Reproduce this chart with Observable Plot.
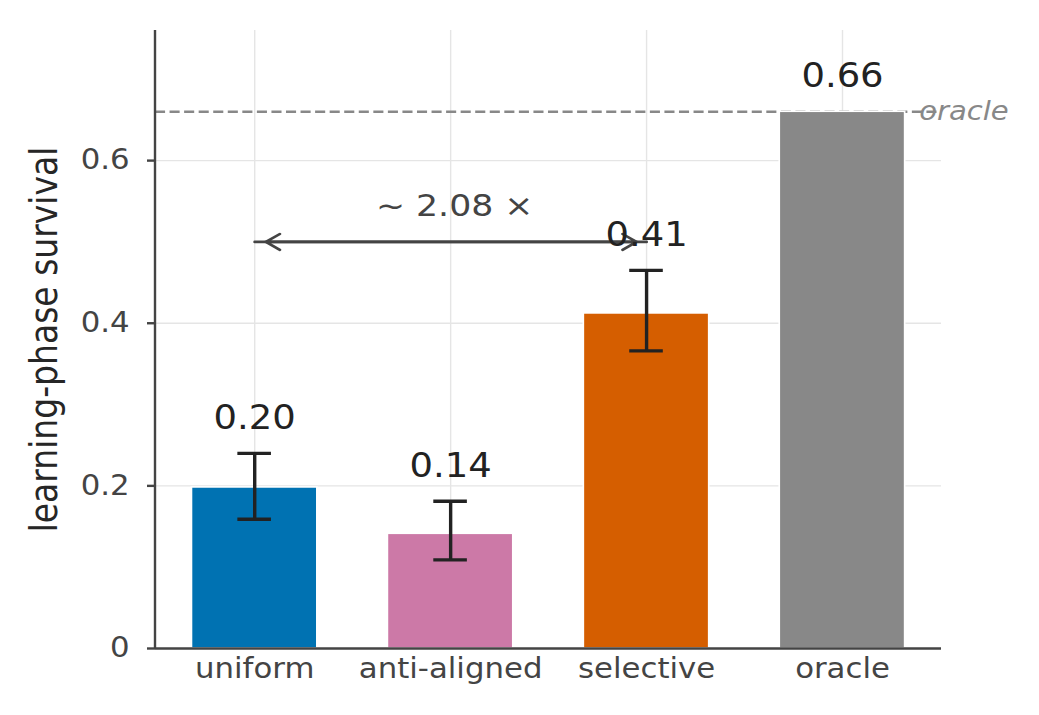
<!DOCTYPE html>
<html><head><meta charset="utf-8">
<script src="https://cdn.jsdelivr.net/npm/d3@7"></script>
<script src="https://cdn.jsdelivr.net/npm/@observablehq/plot@0.6"></script>
<style>
html,body{margin:0;padding:0;background:#fff;}
#wrap{width:1039px;height:715px;overflow:hidden;}
#wrap svg{transform-origin:0 0;}
</style></head><body><div id="wrap"></div>
<script>
// ---- data ----
const categories = ["uniform", "anti-aligned", "selective", "oracle"];
const values = [0.198, 0.141, 0.412, 0.66];
const errLow = [0.159, 0.109, 0.366, null];
const errHigh = [0.240, 0.181, 0.465, null];
const valueLabels = ["0.20", "0.14", "0.41", "0.66"];
const barColors = ["#0072B2", "#CC79A7", "#D55E00", "#888888"];
const yTicks = [0, 0.2, 0.4, 0.6];
const yTickLabels = ["0", "0.2", "0.4", "0.6"];
const yLabel = "learning-phase survival";
const oracleLevel = 0.66;
const oracleLabel = "oracle";
const arrowFrom = "uniform";
const arrowTo = "selective";
const arrowY = 0.5;
const ratioLabel = "~ 2.08 ×";
const ratioLabelY = 0.532;
const labelOffset = 0.03;

// ---- layout ----
const S = 1039 / 928;     // horizontal stretch of the reference
const W = 928;
const mL = 155 / S, mR = W - 941 / S;

const data = categories.map((c, i) => ({cat: c, value: values[i], lo: errLow[i], hi: errHigh[i], label: valueLabels[i], color: barColors[i]}));
const errData = data.filter(d => d.lo != null);
const arrowData = [{from: arrowFrom, to: arrowTo, y: arrowY}];

function leftSpine(...args) {
  const dims = args.find(a => a && typeof a === "object" && "marginLeft" in a && "height" in a);
  return d3.create("svg:line")
    .attr("x1", dims.marginLeft).attr("x2", dims.marginLeft)
    .attr("y1", dims.marginTop).attr("y2", dims.height - dims.marginBottom)
    .attr("stroke", "#444").attr("stroke-width", 2.4 / S).node();
}

const capInset = 41;
const chart = Plot.plot({
  width: W, height: 715,
  marginLeft: mL, marginRight: mR, marginTop: 30, marginBottom: 67,
  style: {fontFamily: "DejaVu Sans", background: "white", overflow: "visible"},
  x: {domain: categories, paddingInner: 0.36, paddingOuter: 0.18, label: null, axis: null},
  y: {domain: [0, 0.76], label: null, axis: null},
  color: {type: "identity"},
  marks: [
    Plot.gridX(categories, {stroke: "#e5e5e5", strokeOpacity: 1, strokeWidth: 1.4 / S}),
    Plot.gridY(yTicks, {stroke: "#e5e5e5", strokeOpacity: 1, strokeWidth: 1.4}),
    Plot.ruleY([oracleLevel], {stroke: "#888", strokeWidth: 2.6, strokeDasharray: "9,4"}),
    Plot.barY(data, {x: "cat", y: "value", fill: d => d.color, stroke: "white", strokeWidth: 1.5}),
    Plot.ruleX(errData, {x: "cat", y1: "lo", y2: "hi", stroke: "#222", strokeWidth: 3.4 / S}),
    Plot.tickY(errData, {x: "cat", y: "lo", stroke: "#222", strokeWidth: 3.4, insetLeft: capInset, insetRight: capInset}),
    Plot.tickY(errData, {x: "cat", y: "hi", stroke: "#222", strokeWidth: 3.4, insetLeft: capInset, insetRight: capInset}),
    Plot.ruleY([0], {stroke: "#444", strokeWidth: 2.4}),
    leftSpine,
    Plot.axisY(yTicks, {
      tickFormat: d => yTickLabels[yTicks.indexOf(d)],
      tickSize: 8 / S, tickPadding: 16, fontSize: 27.5, color: "#444", strokeWidth: 2.4, label: null
    }),
    Plot.axisX(categories, {tickSize: 0, tickPadding: 10, fontSize: 27.5, color: "#444", label: null}),
    Plot.arrow(arrowData, {x1: "from", x2: "to", y1: "y", y2: "y", stroke: "#444", strokeWidth: 2.6, headLength: 8.5, headAngle: 65, insetEnd: 9}),
    Plot.arrow(arrowData, {x1: "to", x2: "from", y1: "y", y2: "y", stroke: "#444", strokeWidth: 2.6, headLength: 8.5, headAngle: 65, insetEnd: 10}),
    Plot.text(data, {x: "cat", y: d => (d.hi ?? d.value) + labelOffset, text: "label", lineAnchor: "bottom", fontSize: 33, fill: "#222"}),
    Plot.text([ratioLabel], {x: () => categories[1], y: () => ratioLabelY, text: d => d, lineAnchor: "bottom", dx: 4 / S, fontSize: 31, fill: "#444"}),
    Plot.text([oracleLabel], {frameAnchor: "right", y: () => oracleLevel, text: d => d, textAnchor: "start", dx: -20, fontStyle: "italic", fontSize: 26, fill: "#888"}),
    Plot.text([yLabel], {frameAnchor: "left", text: d => d, rotate: -90, textAnchor: "middle", lineAnchor: "middle", dx: 40 - mL, fontSize: 33, fill: "#262626"})
  ]
});
chart.style.transform = `scale(${S}, 1)`;
chart.style.transformOrigin = "0 0";
chart.style.maxWidth = "none";
document.getElementById("wrap").appendChild(chart);
</script></body></html>
